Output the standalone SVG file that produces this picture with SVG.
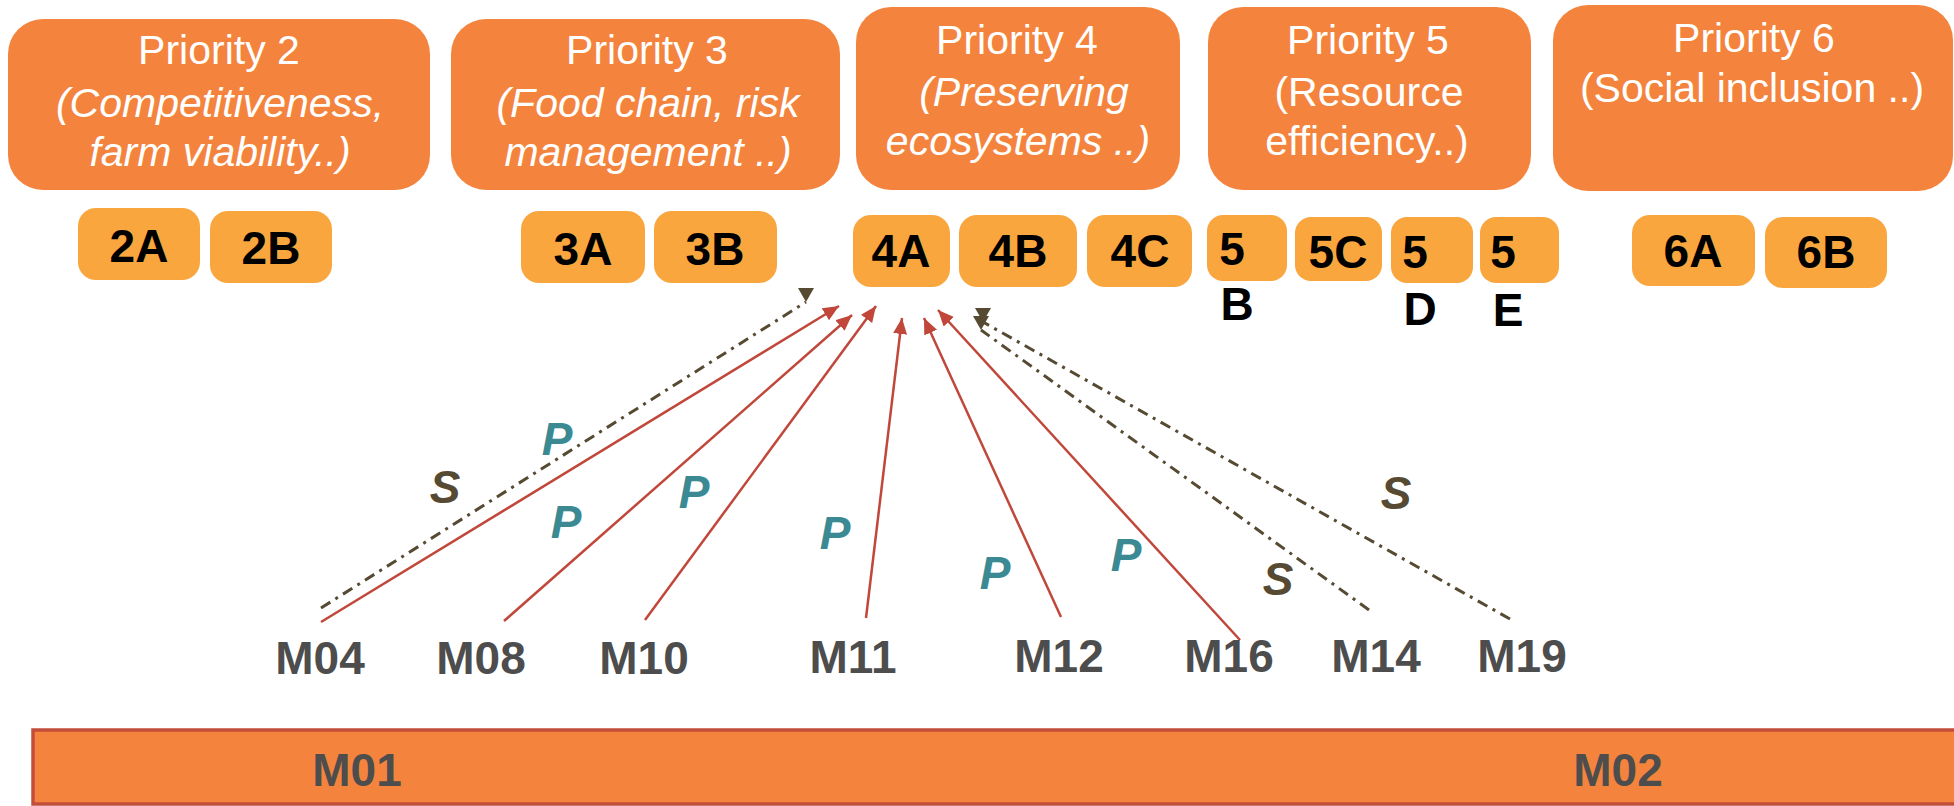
<svg xmlns="http://www.w3.org/2000/svg" width="1954" height="806" viewBox="0 0 1954 806">
<defs>
<style>
.big{fill:#F4843D}
.small{fill:#F9A63F}
.ht{font-family:"Liberation Sans",Arial,sans-serif;font-size:41px;fill:#ffffff;text-anchor:middle}
.it{font-style:italic}
.st{font-family:"Liberation Sans",Arial,sans-serif;font-size:46px;font-weight:bold;fill:#000000;text-anchor:middle}
.mt{font-family:"Liberation Sans",Arial,sans-serif;font-size:46px;font-weight:bold;fill:#4D4D4D;text-anchor:middle}
.pl{font-family:"Liberation Sans",Arial,sans-serif;font-size:46px;font-weight:bold;font-style:italic;fill:#3B8A93;text-anchor:middle}
.sl{font-family:"Liberation Sans",Arial,sans-serif;font-size:46px;font-weight:bold;font-style:italic;fill:#574A33;text-anchor:middle}
.red{stroke:#C0473A;stroke-width:2.5;fill:none;marker-end:url(#redHead)}
.dash{stroke:#574A33;stroke-width:3;fill:none;stroke-dasharray:11 6 3 6;marker-end:url(#sHead)}
</style>
<marker id="redHead" markerUnits="userSpaceOnUse" markerWidth="18" markerHeight="16" refX="16" refY="7" orient="auto">
<path d="M0,0 L16,7 L0,14 z" fill="#C0473A"/>
</marker>
<marker id="sHead" markerUnits="userSpaceOnUse" markerWidth="16" markerHeight="18" refX="14" refY="8" orient="90">
<path d="M0,0 L14,8 L0,16 z" fill="#574A33"/>
</marker>
</defs>

<g id="priority2">
<rect class="big" x="8" y="19" width="422" height="171" rx="35"/>
<text class="ht" x="219" y="64">Priority 2</text>
<text class="ht it" x="220" y="117">(Competitiveness,</text>
<text class="ht it" x="220" y="166">farm viability..)</text>
</g>
<g id="priority3">
<rect class="big" x="451" y="19" width="389" height="171" rx="35"/>
<text class="ht" x="647" y="64">Priority 3</text>
<text class="ht it" x="648" y="117">(Food chain, risk</text>
<text class="ht it" x="648" y="166">management ..)</text>
</g>
<g id="priority4">
<rect class="big" x="856" y="7" width="324" height="183" rx="35"/>
<text class="ht" x="1017" y="54">Priority 4</text>
<text class="ht it" x="1024" y="106">(Preserving</text>
<text class="ht it" x="1018" y="155">ecosystems ..)</text>
</g>
<g id="priority5">
<rect class="big" x="1208" y="7" width="323" height="183" rx="35"/>
<text class="ht" x="1368" y="54">Priority 5</text>
<text class="ht" x="1369" y="106">(Resource</text>
<text class="ht" x="1367" y="155">efficiency..)</text>
</g>
<g id="priority6">
<rect class="big" x="1553" y="5" width="400" height="186" rx="35"/>
<text class="ht" x="1754" y="52">Priority 6</text>
<text class="ht" x="1752" y="102">(Social inclusion ..)</text>
</g>

<g id="f2A"><rect class="small" x="78" y="208" width="122" height="72" rx="18"/><text class="st" x="139" y="262">2A</text></g>
<g id="f2B"><rect class="small" x="210" y="211" width="122" height="72" rx="18"/><text class="st" x="271" y="264">2B</text></g>
<g id="f3A"><rect class="small" x="521" y="211" width="124" height="72" rx="18"/><text class="st" x="583" y="265">3A</text></g>
<g id="f3B"><rect class="small" x="654" y="211" width="123" height="72" rx="18"/><text class="st" x="715" y="265">3B</text></g>
<g id="f4A"><rect class="small" x="853" y="215" width="97" height="72" rx="18"/><text class="st" x="901" y="267">4A</text></g>
<g id="f4B"><rect class="small" x="959" y="215" width="118" height="72" rx="18"/><text class="st" x="1018" y="267">4B</text></g>
<g id="f4C"><rect class="small" x="1087" y="215" width="105" height="72" rx="18"/><text class="st" x="1140" y="267">4C</text></g>
<g id="f5B"><rect class="small" x="1207" y="215" width="80" height="66" rx="16"/><text class="st" x="1232" y="265">5</text><text class="st" x="1237" y="320">B</text></g>
<g id="f5C"><rect class="small" x="1295" y="217" width="87" height="64" rx="16"/><text class="st" x="1338" y="268">5C</text></g>
<g id="f5D"><rect class="small" x="1391" y="217" width="82" height="66" rx="16"/><text class="st" x="1415" y="268">5</text><text class="st" x="1420" y="325">D</text></g>
<g id="f5E"><rect class="small" x="1480" y="217" width="79" height="66" rx="16"/><text class="st" x="1503" y="268">5</text><text class="st" x="1508" y="326">E</text></g>
<g id="f6A"><rect class="small" x="1632" y="215" width="123" height="71" rx="18"/><text class="st" x="1693" y="267">6A</text></g>
<g id="f6B"><rect class="small" x="1765" y="217" width="122" height="71" rx="18"/><text class="st" x="1826" y="268">6B</text></g>

<g id="connectors">
<line class="dash" x1="321" y1="608" x2="806" y2="302"/>
<line class="red" x1="321" y1="622" x2="839" y2="306"/>
<line class="red" x1="504" y1="621" x2="852" y2="315"/>
<line class="red" x1="645" y1="620" x2="876" y2="306"/>
<line class="red" x1="866" y1="618" x2="902" y2="318"/>
<line class="red" x1="1061" y1="617" x2="924" y2="318"/>
<line class="red" x1="1240" y1="640" x2="938" y2="310"/>
<line class="dash" x1="1369" y1="610" x2="981" y2="330"/>
<line class="dash" x1="1510" y1="619" x2="983" y2="322"/>
</g>

<g id="labels">
<text class="pl" x="557" y="455">P</text>
<text class="sl" x="445" y="503">S</text>
<text class="pl" x="566" y="538">P</text>
<text class="pl" x="694" y="508">P</text>
<text class="pl" x="835" y="549">P</text>
<text class="pl" x="995" y="589">P</text>
<text class="pl" x="1126" y="571">P</text>
<text class="sl" x="1278" y="595">S</text>
<text class="sl" x="1396" y="509">S</text>
</g>

<g id="m04"><text class="mt" x="320" y="674">M04</text></g>
<g id="m08"><text class="mt" x="481" y="674">M08</text></g>
<g id="m10"><text class="mt" x="644" y="674">M10</text></g>
<g id="m11"><text class="mt" x="853" y="673">M11</text></g>
<g id="m12"><text class="mt" x="1059" y="672">M12</text></g>
<g id="m16"><text class="mt" x="1229" y="672">M16</text></g>
<g id="m14"><text class="mt" x="1376" y="672">M14</text></g>
<g id="m19"><text class="mt" x="1522" y="672">M19</text></g>

<g id="bar">
<rect x="33" y="730" width="1940" height="74" fill="#F4843D" stroke="#C24E3A" stroke-width="3.5"/>
<text class="mt" x="357" y="786">M01</text>
<text class="mt" x="1618" y="786">M02</text>
</g>
</svg>
